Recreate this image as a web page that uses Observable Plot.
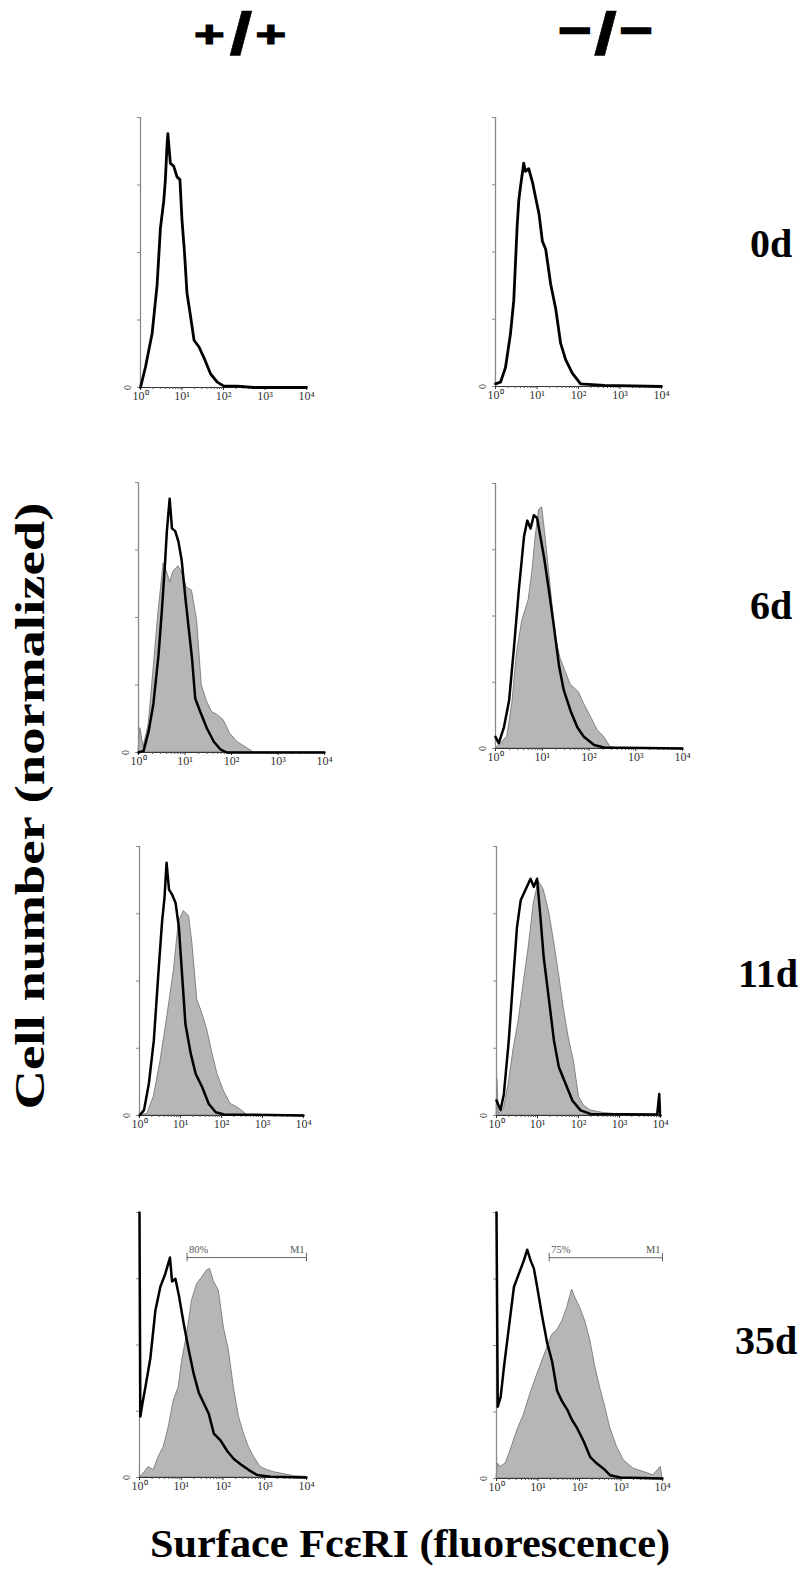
<!DOCTYPE html>
<html><head><meta charset="utf-8">
<script src="https://cdn.jsdelivr.net/npm/d3@7"></script>
<script src="https://cdn.jsdelivr.net/npm/@observablehq/plot@0.6"></script>
<style>
html,body{margin:0;padding:0;background:#fff;}
#fig{position:relative;width:807px;height:1570px;overflow:hidden;background:#fff;}
.panel{position:absolute;}
#labels{position:absolute;left:0;top:0;}
</style></head><body><div id="fig"></div>
<script>
// ---- categories / labels ----
const genotypes = ["+/+", "−/−"];
const days = ["0d", "6d", "11d", "35d"];
const xTicks = [1, 10, 100, 1000, 10000];
const xTickLabels = ["10⁰", "10¹", "10²", "10³", "10⁴"];
const yTicks = [0, 25, 50, 75, 100];
const yLabel = "Cell number (normalized)";
const xLabel = "Surface FcεRI (fluorescence)";

// ---- series: [log10 fluorescence, normalized cell number] ----
// black outline histograms
const wt0_line = [[0,0],[0.12,7.6],[0.28,20],[0.40,38],[0.48,59],[0.56,69],[0.60,77],[0.64,90],[0.66,94],[0.72,83],[0.80,82],[0.88,78],[0.95,77],[1.00,62],[1.04,54],[1.06,50],[1.12,35],[1.20,27],[1.29,17.5],[1.41,15],[1.53,11],[1.69,5],[1.85,2],[2.01,0.5],[2.33,0.5],[2.73,0],[4,0]];
const ko0_line = [[0,1],[0.12,1.6],[0.24,7],[0.36,19.5],[0.44,32],[0.52,59],[0.56,69],[0.60,74],[0.68,83],[0.72,80],[0.80,81],[0.89,76],[0.97,70],[1.05,64],[1.13,54],[1.21,51],[1.33,38],[1.45,29],[1.57,16],[1.69,10],[1.85,5],[2.05,1],[2.62,0.4],[4,0]];
const wt6_line = [[0,0],[0.11,0.6],[0.22,8],[0.32,18],[0.43,36],[0.50,52],[0.57,70],[0.61,82],[0.67,94],[0.72,83],[0.79,82],[0.86,78],[0.93,71],[1.01,57],[1.08,46],[1.15,35],[1.22,20],[1.33,15],[1.47,9],[1.62,4],[1.76,1.2],[1.90,0],[4,0]];
const ko6_line = [[0,4.4],[0.07,2],[0.18,8],[0.29,18],[0.39,37],[0.50,60],[0.61,80],[0.68,86],[0.75,83],[0.82,88],[0.89,87],[0.96,80],[1.04,72],[1.14,60],[1.25,46],[1.36,31],[1.46,22],[1.61,14],[1.75,8],[1.89,4.4],[2.11,1.3],[2.32,0.4],[4,0]];
const wt11_line = [[0,0],[0.11,2],[0.23,12],[0.35,28],[0.47,55],[0.55,72],[0.61,81],[0.66,94],[0.72,84],[0.80,82],[0.88,79],[0.96,70],[1.04,52],[1.12,34],[1.25,23],[1.37,15.5],[1.53,10.5],[1.69,4.3],[1.86,1.2],[2.06,0.4],[4,0]];
const ko11_line = [[0,5.6],[0.10,2],[0.18,8],[0.30,28],[0.38,45],[0.50,70],[0.59,80],[0.71,84],[0.83,88],[0.91,85],[0.99,88],[1.07,74],[1.15,59],[1.28,43],[1.40,28],[1.52,18],[1.68,12],[1.85,5.6],[2.05,1.9],[2.29,0.6],[3.92,0.4],[3.97,8],[3.99,0],[4,0]];
const wt35_line = [[0,100],[0.02,23],[0.06,27],[0.14,34],[0.26,45],[0.38,63],[0.50,72],[0.62,77],[0.73,83],[0.78,74],[0.86,75],[0.94,69],[1.06,58],[1.18,48],[1.30,39],[1.42,32],[1.54,28],[1.66,24],[1.78,16.6],[1.94,14],[2.10,10],[2.26,7],[2.42,5],[2.62,2.8],[2.82,0.9],[3.14,0.3],[4,0]];
const ko35_line = [[0,100],[0.03,27],[0.10,30.6],[0.18,42],[0.30,57],[0.42,72],[0.54,77],[0.66,82],[0.74,86],[0.82,82],[0.90,79],[0.98,72],[1.10,61],[1.22,51],[1.34,44],[1.46,33],[1.58,29],[1.70,26],[1.82,22],[1.94,19],[2.10,14],[2.26,8],[2.42,5.6],[2.58,3.7],[2.74,1.2],[2.98,0.4],[4,0]];
// grey filled histograms
const wt6_fill = [[0,0.6],[0.04,9],[0.11,2],[0.22,10.5],[0.32,30],[0.43,52],[0.54,70],[0.61,67],[0.68,63],[0.75,67],[0.86,69],[0.93,67],[1.04,61],[1.15,60],[1.26,49],[1.36,25],[1.47,19],[1.58,15],[1.69,14],[1.83,12],[1.97,7],[2.12,4],[2.30,2],[2.48,0],[4,0]];
const ko6_fill = [[0,0],[0.07,1],[0.25,4.4],[0.36,17],[0.46,36],[0.57,48],[0.64,52],[0.71,56],[0.79,67],[0.86,80],[0.93,90],[1.00,91],[1.07,80],[1.18,61],[1.29,42],[1.39,34],[1.50,29],[1.61,24],[1.68,23],[1.79,21],[1.89,17],[2.04,12],[2.18,7],[2.32,4.4],[2.46,0.6],[2.61,0],[4,0]];
const wt11_fill = [[0,0],[0.19,0.6],[0.35,7],[0.51,20],[0.68,37],[0.84,54],[0.96,72],[1.08,76],[1.21,74],[1.29,64],[1.41,43],[1.53,38],[1.65,32],[1.78,23],[1.90,15.5],[2.06,9],[2.22,4.3],[2.39,3],[2.55,1.2],[2.63,0],[4,0]];
const ko11_fill = [[0,0],[0.02,13.6],[0.06,0.6],[0.18,2.5],[0.30,12],[0.42,25],[0.54,35],[0.67,50],[0.79,63],[0.91,79],[1.03,87],[1.15,84],[1.28,76],[1.40,65],[1.52,53],[1.64,40],[1.76,29],[1.89,20],[2.01,7],[2.13,3.7],[2.29,1.9],[2.62,0.9],[3.02,0.4],[3.96,0],[4,0]];
const wt35_fill = [[0,0],[0.10,1.5],[0.22,4],[0.34,2.8],[0.46,7.8],[0.58,11.5],[0.70,19],[0.82,29],[0.94,34],[1.02,44],[1.14,54],[1.26,67],[1.38,73],[1.50,75.5],[1.61,78],[1.69,78.7],[1.78,74],[1.90,70.5],[2.02,56.7],[2.14,48],[2.26,34],[2.38,23],[2.50,16.6],[2.62,11.5],[2.74,7.8],[2.90,4],[3.06,2.8],[3.22,2],[3.38,1.5],[3.70,0.5],[4,0.25]];
const ko35_fill = [[0,0],[0.03,5.6],[0.10,4.4],[0.22,5.6],[0.34,10.6],[0.50,18],[0.66,24],[0.82,32],[0.98,39],[1.10,44],[1.22,49],[1.34,54],[1.46,55.6],[1.58,59],[1.70,64],[1.82,71],[1.90,68],[2.02,64],[2.14,59],[2.26,52],[2.38,42],[2.50,34],[2.62,27],[2.74,19],[2.90,12],[3.06,7],[3.30,3.7],[3.54,2.5],[3.78,1.2],[3.96,4.4],[4,0]];
// M1 gate markers (35d)
const gatePct = ["80%", "75%"];
const gateStart = [1.14, 1.27];
const gateLevel = 83;

// ---- layout (pixel frames: left, right, top, bottom) ----
const frames = [
  [[140,306,117,387],[495,661,117,386]],
  [[138,324,482,752],[495,682,483,748]],
  [[139,303,846,1115],[496,660,846,1115]],
  [[139,306,1212,1477],[496,662,1212,1478]]
];
const lines = [[wt0_line, ko0_line],[wt6_line, ko6_line],[wt11_line, ko11_line],[wt35_line, ko35_line]];
const fills = [[null, null],[wt6_fill, ko6_fill],[wt11_fill, ko11_fill],[wt35_fill, ko35_fill]];

const minorTicks = [];
for (let k = 0; k < 4; k++) for (let m = 2; m < 10; m++) minorTicks.push(m * 10 ** k);

const ML = 24, MR = 14, MT = 6, MB = 24;
const fig = document.getElementById("fig");
const toRows = arr => arr.map(([lx, y]) => ({x: 10 ** lx, y}));

for (let r = 0; r < 4; r++) {
  for (let c = 0; c < 2; c++) {
    const [L, R, T, B] = frames[r][c];
    const lineData = toRows(lines[r][c]);
    const fillData = fills[r][c] ? toRows(fills[r][c]) : null;
    const marks = [];
    if (fillData) marks.push(Plot.areaY(fillData, {x: "x", y: "y", fill: "#b6b6b6", stroke: "#6e6e6e", strokeWidth: 0.8}));
    marks.push(Plot.ruleX([{x: 1}], {x: "x", y1: () => 0, y2: () => 100, stroke: "#8a8a8a", strokeWidth: 1.3}));
    marks.push(Plot.axisY(yTicks, {tickSize: 3, stroke: "#8a8a8a", fill: "none", tickFormat: () => "", label: null}));
    marks.push(Plot.ruleY([0], {stroke: "#333", strokeWidth: 1}));
    marks.push(Plot.axisX(minorTicks, {tickSize: 2, stroke: "#555", fill: "none", tickFormat: () => "", label: null}));
    marks.push(Plot.axisX(xTicks, {tickSize: 3, tickPadding: 1, stroke: "#333", fill: "#333", label: null,
      fontSize: 12, fontFamily: "Liberation Serif, serif",
      tickFormat: d => xTickLabels[xTicks.indexOf(d)]}));
    marks.push(Plot.text([{x: 1, y: 0, t: "0"}], {x: "x", y: "y", text: "t", dx: -13, rotate: -90,
      fontSize: 10, fill: "#333", fontFamily: "Liberation Serif, serif"}));
    marks.push(Plot.line(lineData, {x: "x", y: "y", stroke: "#000", strokeWidth: r === 0 ? 2.8 : 2.5, strokeLinejoin: "round"}));
    if (r === 3) {
      const g = [{from: 10 ** gateStart[c], to: 10000, pct: gatePct[c], y: gateLevel}];
      marks.push(Plot.ruleY(g, {x1: "from", x2: "to", y: "y", stroke: "#666", strokeWidth: 1}));
      marks.push(Plot.ruleX(g, {x: "from", y1: d => d.y - 1.6, y2: d => d.y + 1.6, stroke: "#666"}));
      marks.push(Plot.ruleX(g, {x: "to", y1: d => d.y - 1.6, y2: d => d.y + 1.6, stroke: "#666"}));
      marks.push(Plot.text(g, {x: "from", y: "y", text: "pct", dx: 2, dy: -8, textAnchor: "start",
        fontSize: 10.5, fill: "#555", fontFamily: "Liberation Serif, serif"}));
      marks.push(Plot.text(g, {x: "to", y: "y", text: () => "M1", dx: -2, dy: -8, textAnchor: "end",
        fontSize: 10.5, fill: "#555", fontFamily: "Liberation Serif, serif"}));
    }
    const chart = Plot.plot({
      width: R - L + ML + MR,
      height: B - T + MT + MB,
      marginLeft: ML, marginRight: MR, marginTop: MT, marginBottom: MB,
      x: {type: "log", domain: [1, 10000], axis: null, label: null},
      y: {domain: [0, 100], axis: null, label: null},
      style: {background: "transparent", overflow: "visible", fontFamily: "Liberation Serif, serif"},
      marks
    });
    chart.classList.add("panel");
    chart.style.left = (L - ML) + "px";
    chart.style.top = (T - MT) + "px";
    fig.appendChild(chart);
  }
}

// ---- surrounding labels ----
const NS = "http://www.w3.org/2000/svg";
const svg = document.createElementNS(NS, "svg");
svg.setAttribute("id", "labels");
svg.setAttribute("width", 807);
svg.setAttribute("height", 1570);
svg.innerHTML = `
  <g font-family="Liberation Sans, Arial, sans-serif" font-weight="bold" fill="#000" stroke="#000">
    <g transform="translate(240,0) scale(1.4,1)">
      <text text-anchor="middle"><tspan x="-22" y="47" font-size="37.5" stroke-width="1.2">+</tspan><tspan x="0.7" y="54" font-size="60" stroke-width="0.5">/</tspan><tspan x="22" y="47" font-size="37.5" stroke-width="1.2">+</tspan></text>
    </g>
    <g transform="translate(605.5,0) scale(1.4,1)">
      <text text-anchor="middle"><tspan x="-21.8" y="43.5" font-size="37.5" stroke-width="3">−</tspan><tspan x="0" y="54" font-size="60" stroke-width="0.5">/</tspan><tspan x="22.1" y="43.5" font-size="37.5" stroke-width="3">−</tspan></text>
    </g>
  </g>
  <g font-family="Liberation Serif, serif" font-weight="bold" fill="#000" font-size="40">
    <text x="750" y="257">${days[0]}</text>
    <text x="750" y="619">${days[1]}</text>
    <text x="738" y="987">${days[2]}</text>
    <text x="735" y="1354">${days[3]}</text>
  </g>
  <text transform="translate(44,806) rotate(-90)" text-anchor="middle" font-family="Liberation Serif, serif" font-weight="bold" font-size="42" textLength="607" lengthAdjust="spacingAndGlyphs">${yLabel}</text>
  <text x="410" y="1557" text-anchor="middle" font-family="Liberation Serif, serif" font-weight="bold" font-size="41" textLength="520" lengthAdjust="spacingAndGlyphs">${xLabel}</text>
`;
fig.appendChild(svg);
</script>
</body></html>
